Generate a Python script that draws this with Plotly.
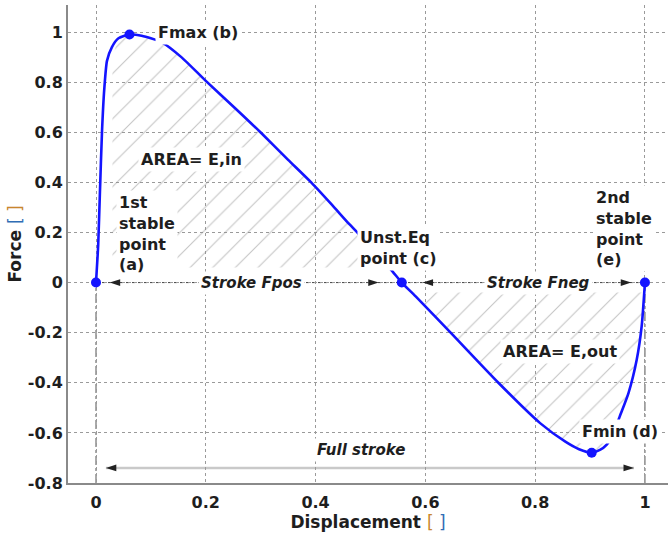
import plotly.graph_objects as go

# Normalised force-displacement curve of the bistable element
displacement = [0.0, 0.004, 0.007, 0.011, 0.015, 0.020, 0.029, 0.041, 0.061, 0.083,
                0.12, 0.156, 0.20, 0.253, 0.301, 0.35, 0.392, 0.43, 0.462, 0.50,
                0.540, 0.557, 0.585, 0.646, 0.733, 0.809, 0.855, 0.880, 0.903, 0.918,
                0.930, 0.943, 0.954, 0.970, 0.985, 0.994, 1.0]
force = [0.0, 0.15, 0.35, 0.605, 0.77, 0.885, 0.94, 0.975, 0.99, 0.985,
         0.959, 0.899, 0.805, 0.697, 0.597, 0.49, 0.40, 0.31, 0.232, 0.145,
         0.045, 0.0, -0.061, -0.20, -0.40, -0.561, -0.635, -0.665, -0.679, -0.668,
         -0.648, -0.60, -0.535, -0.441, -0.308, -0.175, 0.0]

# Characteristic points: (a) 1st stable, (b) Fmax, (c) unstable eq., (d) Fmin, (e) 2nd stable
key_x = [0.0, 0.061, 0.557, 0.903, 1.0]
key_y = [0.0, 0.99, 0.0, -0.679, 0.0]

x_ticks = [0, 0.2, 0.4, 0.6, 0.8, 1]
y_ticks = [-0.8, -0.6, -0.4, -0.2, 0, 0.2, 0.4, 0.6, 0.8, 1]

# Stroke arrows: (start, end) in displacement, drawn at a given force level
stroke_pos = (0.025, 0.515)
stroke_neg = (0.595, 0.975)
full_stroke = (0.018, 0.98)
full_stroke_y = -0.74

BLUE = "#1414ff"
TXT = "#1e1e1e"
FONT = "DejaVu Sans"

# Hatched energy areas, bounded by the curve itself
ein_x = [0.03, 0.03] + [d for d in displacement if 0.041 <= d <= 0.50] + [0.50]
ein_y = [0.06, 0.90] + [f for d, f in zip(displacement, force) if 0.041 <= d <= 0.50] + [0.06]
eout_pts = [(d, f) for d, f in zip(displacement, force) if 0.585 <= d <= 0.994]
eout_x = [0.58] + [p[0] for p in eout_pts] + [0.996]
eout_y = [-0.04] + [p[1] for p in eout_pts] + [-0.04]

fig = go.Figure()

hatch = dict(shape="/", fgcolor="#8c8c8c", bgcolor="rgba(0,0,0,0)", size=16, solidity=0.07)
for hx, hy in ((ein_x, ein_y), (eout_x, eout_y)):
    fig.add_trace(go.Scatter(x=hx, y=hy, mode="lines", fill="toself",
                             fillcolor="rgba(0,0,0,0)", fillpattern=hatch,
                             line=dict(width=0), hoverinfo="skip", showlegend=False))

# Guide lines
fig.add_shape(type="line", x0=0.0, x1=1.0, y0=0, y1=0,
              line=dict(color="#444", width=1, dash="dot"), layer="below")
for xv in (0.0, 1.0):
    fig.add_shape(type="line", x0=xv, x1=xv, y0=-0.8, y1=0,
                  line=dict(color="#555", width=1, dash="dashdot"), layer="below")
fig.add_shape(type="line", x0=full_stroke[0], x1=full_stroke[1],
              y0=full_stroke_y, y1=full_stroke_y,
              line=dict(color="#c9c9c9", width=2.5), layer="below")

fig.add_trace(go.Scatter(x=displacement, y=force, mode="lines",
                         line=dict(color=BLUE, width=2.6, shape="spline", smoothing=0.6),
                         showlegend=False))
fig.add_trace(go.Scatter(x=key_x, y=key_y, mode="markers",
                         marker=dict(color=BLUE, size=10), showlegend=False))

# Arrowheads at both ends of each stroke
head_x, head_y, head_angle = [], [], []
for (x0, x1), yv in ((stroke_pos, 0.0), (stroke_neg, 0.0), (full_stroke, full_stroke_y)):
    head_x += [x0, x1]
    head_y += [yv, yv]
    head_angle += [-90, 90]
fig.add_trace(go.Scatter(x=head_x, y=head_y, mode="markers", hoverinfo="skip",
                         marker=dict(symbol="arrow", size=11, color="#222",
                                     angle=head_angle, line=dict(width=0)),
                         showlegend=False))

def label(text, x, y, italic=False, align="center", xanchor="center", size=16):
    fig.add_annotation(x=x, y=y, xref="x", yref="y", text=text, showarrow=False,
                       align=align, xanchor=xanchor, yanchor="middle",
                       bgcolor="white", borderpad=2,
                       font=dict(family=FONT, size=size, color=TXT, weight="bold",
                                 style="italic" if italic else "normal"))

label("Fmax (b)", 0.185, 1.0)
label("AREA= E,in", 0.174, 0.49)
label("1st<br>stable<br>point<br>(a)", 0.037, 0.196, align="left", xanchor="left")
label("Stroke Fpos", 0.283, 0.0, italic=True, size=15)
label("Unst.Eq<br>point (c)", 0.475, 0.14, align="left", xanchor="left")
label("Stroke Fneg", 0.806, 0.0, italic=True, size=15)
label("2nd<br>stable<br>point<br>(e)", 0.905, 0.216, align="left", xanchor="left")
label("AREA= E,out", 0.846, -0.276)
label("Fmin (d)", 0.955, -0.596)
label("Full stroke", 0.483, -0.668, italic=True, size=15)

axis_common = dict(showgrid=True, gridcolor="#9a9a9a", gridwidth=1, griddash="dot",
                   zeroline=False, showline=True, linecolor="#8a8a8a", linewidth=2,
                   ticks="", automargin=False,
                   tickfont=dict(family=FONT, size=16, color=TXT, weight="bold"))

fig.update_xaxes(range=[-0.051, 1.042], tickvals=x_ticks,
                 ticktext=[f"{v:g}" for v in x_ticks], ticklabelstandoff=4,
                 title=dict(text="Displacement <span style='font-weight:normal'>"
                                 "<span style='color:#c8862e'>[</span> "
                                 "<span style='color:#2f6db5'>]</span></span>",
                            font=dict(family=FONT, size=17, color=TXT, weight="bold"),
                            standoff=4),
                 **axis_common)
fig.update_yaxes(range=[-0.8, 1.108], tickvals=y_ticks,
                 ticktext=[f"{v:g}" for v in y_ticks], ticklabelstandoff=0,
                 title=dict(text="Force <span style='font-weight:normal'>"
                                 "<span style='color:#2f6db5'>[</span> "
                                 "<span style='color:#c8862e'>]</span></span>",
                            font=dict(family=FONT, size=17, color=TXT, weight="bold"),
                            standoff=2),
                 **axis_common)

fig.update_layout(width=670, height=540, margin=dict(l=68, r=2, t=5, b=57),
                  plot_bgcolor="white", paper_bgcolor="white", showlegend=False)

fig.write_html("out.html")
